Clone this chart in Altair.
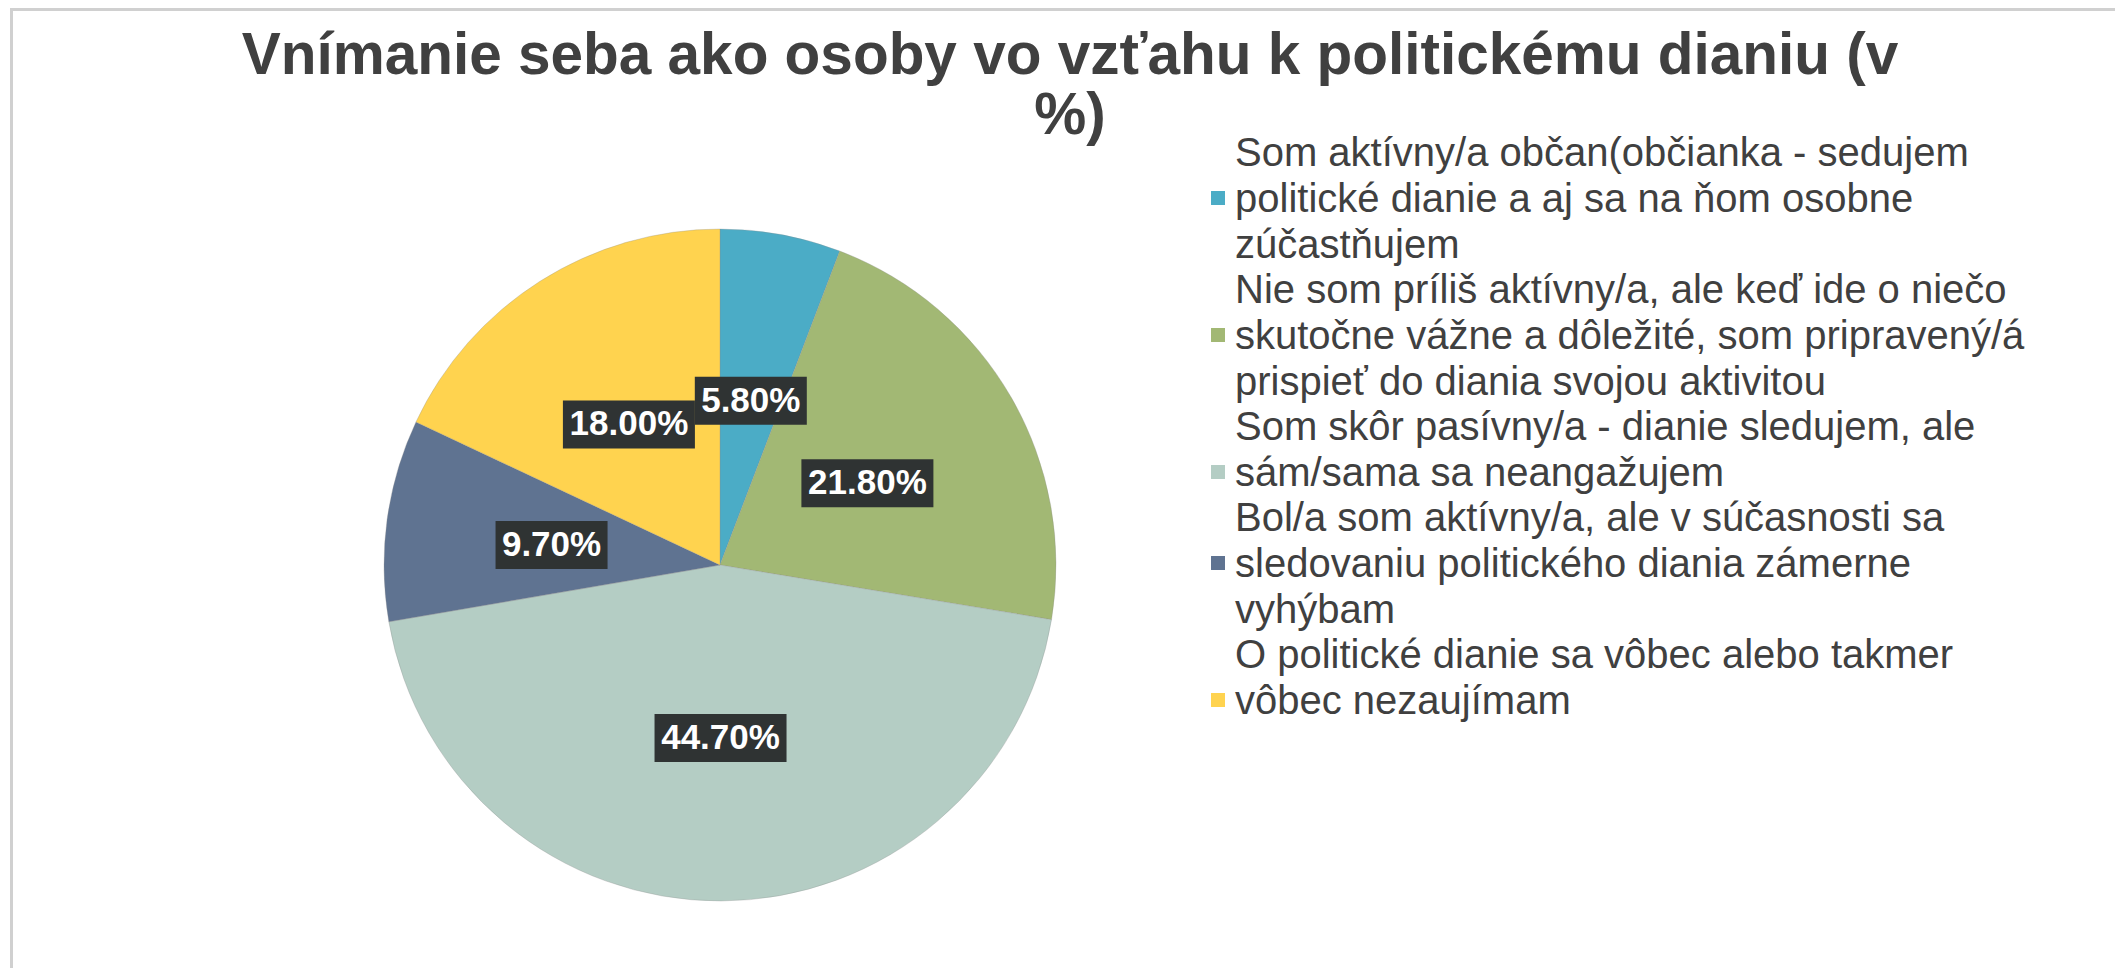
import altair as alt
import pandas as pd

# ---- data ----
categories = [
    "Som aktívny/a občan(občianka - sedujem|politické dianie a aj sa na ňom osobne|zúčastňujem",
    "Nie som príliš aktívny/a, ale keď ide o niečo|skutočne vážne a dôležité, som pripravený/á|prispieť do diania svojou aktivitou",
    "Som skôr pasívny/a - dianie sledujem, ale|sám/sama sa neangažujem",
    "Bol/a som aktívny/a, ale v súčasnosti sa|sledovaniu politického diania zámerne|vyhýbam",
    "O politické dianie sa vôbec alebo takmer|vôbec nezaujímam",
]
values = [5.8, 21.8, 44.7, 9.7, 18.0]
colors = ["#4BACC6", "#A2B874", "#B4CDC4", "#5F7391", "#FFD34F"]
title_lines = ["Vnímanie seba ako osoby vo vzťahu k politickému dianiu (v", "%)"]

df = pd.DataFrame({"cat": categories, "value": values, "idx": list(range(len(values)))})

W, H = 2107, 960
CX, CY, R = 712, 557, 336
LR = 170
LCY = CY + 3

# square legend swatch, shifted right/down so it sits beside the middle line
SWATCH = "M-0.36,6.73H2.18V9.27H-0.36Z"

base = alt.Chart(df)

arcs = base.mark_arc(x=CX, y=CY, radius=R, stroke="#8c8c8c", strokeWidth=0.6, strokeOpacity=0.5).encode(
    theta=alt.Theta("value:Q", stack=True),
    order=alt.Order("idx:Q"),
    color=alt.Color(
        "cat:N",
        sort=categories,
        scale=alt.Scale(domain=categories, range=colors),
        legend=alt.Legend(
            orient="none",
            legendX=1185,
            legendY=126,
            title=None,
            labelExpr="split(datum.label, '|')",
            labelFontSize=40,
            labelFont="Liberation Sans",
            labelColor="#404040",
            labelLimit=3000,
            labelOffset=2,
            symbolType=SWATCH,
            symbolSize=121,
            symbolStrokeWidth=0,
            rowPadding=5,
            padding=0,
        ),
    ),
)

lab = base.transform_window(
    cum="sum(value)", sort=[alt.SortField("idx")], frame=[None, 0]
).transform_joinaggregate(total="sum(value)").transform_calculate(
    mid="(datum.cum - datum.value/2) / datum.total * 2 * PI",
    lx=f"{CX} + {LR} * sin(datum.mid)",
    ly=f"{LCY} - {LR} * cos(datum.mid)",
    txt="format(datum.value, '.2f') + '%'",
    bw="length(datum.txt) * 20 + 12",
    x1="datum.lx - datum.bw / 2",
    x2="datum.lx + datum.bw / 2",
    y1="datum.ly - 24",
    y2="datum.ly + 24",
)

boxes = lab.mark_rect(color="#2f3333").encode(
    x=alt.X("x1:Q", scale=None),
    x2="x2:Q",
    y=alt.Y("y1:Q", scale=None),
    y2="y2:Q",
)

texts = lab.mark_text(color="white", fontWeight="bold", fontSize=35, font="Liberation Sans").encode(
    x=alt.X("lx:Q", scale=None),
    y=alt.Y("ly:Q", scale=None),
    text="txt:N",
)

title = alt.Chart(pd.DataFrame({"t": [0]})).mark_text(
    text=title_lines,
    fontSize=58.5,
    fontWeight="bold",
    font="Liberation Sans",
    color="#404040",
    lineHeight=60,
    align="center",
    baseline="alphabetic",
).encode(x=alt.value(1062), y=alt.value(66))

top_border = alt.Chart(pd.DataFrame({"t": [0]})).mark_rule(color="#d0d0d0", strokeWidth=3).encode(
    x=alt.value(2), x2=alt.value(W), y=alt.value(1.5)
)
left_border = alt.Chart(pd.DataFrame({"t": [0]})).mark_rule(color="#d0d0d0", strokeWidth=3).encode(
    x=alt.value(3.5), y=alt.value(0), y2=alt.value(H)
)

chart = alt.layer(top_border, left_border, arcs, boxes, texts, title).properties(
    width=W, height=H, autosize=alt.AutoSizeParams(type="none"), padding=0
).configure(
    style={"guide-label": {"lineHeight": 46}},
    view={"stroke": "transparent"},
)

chart.save("out.html", embed_options={"renderer": "svg", "actions": False})
